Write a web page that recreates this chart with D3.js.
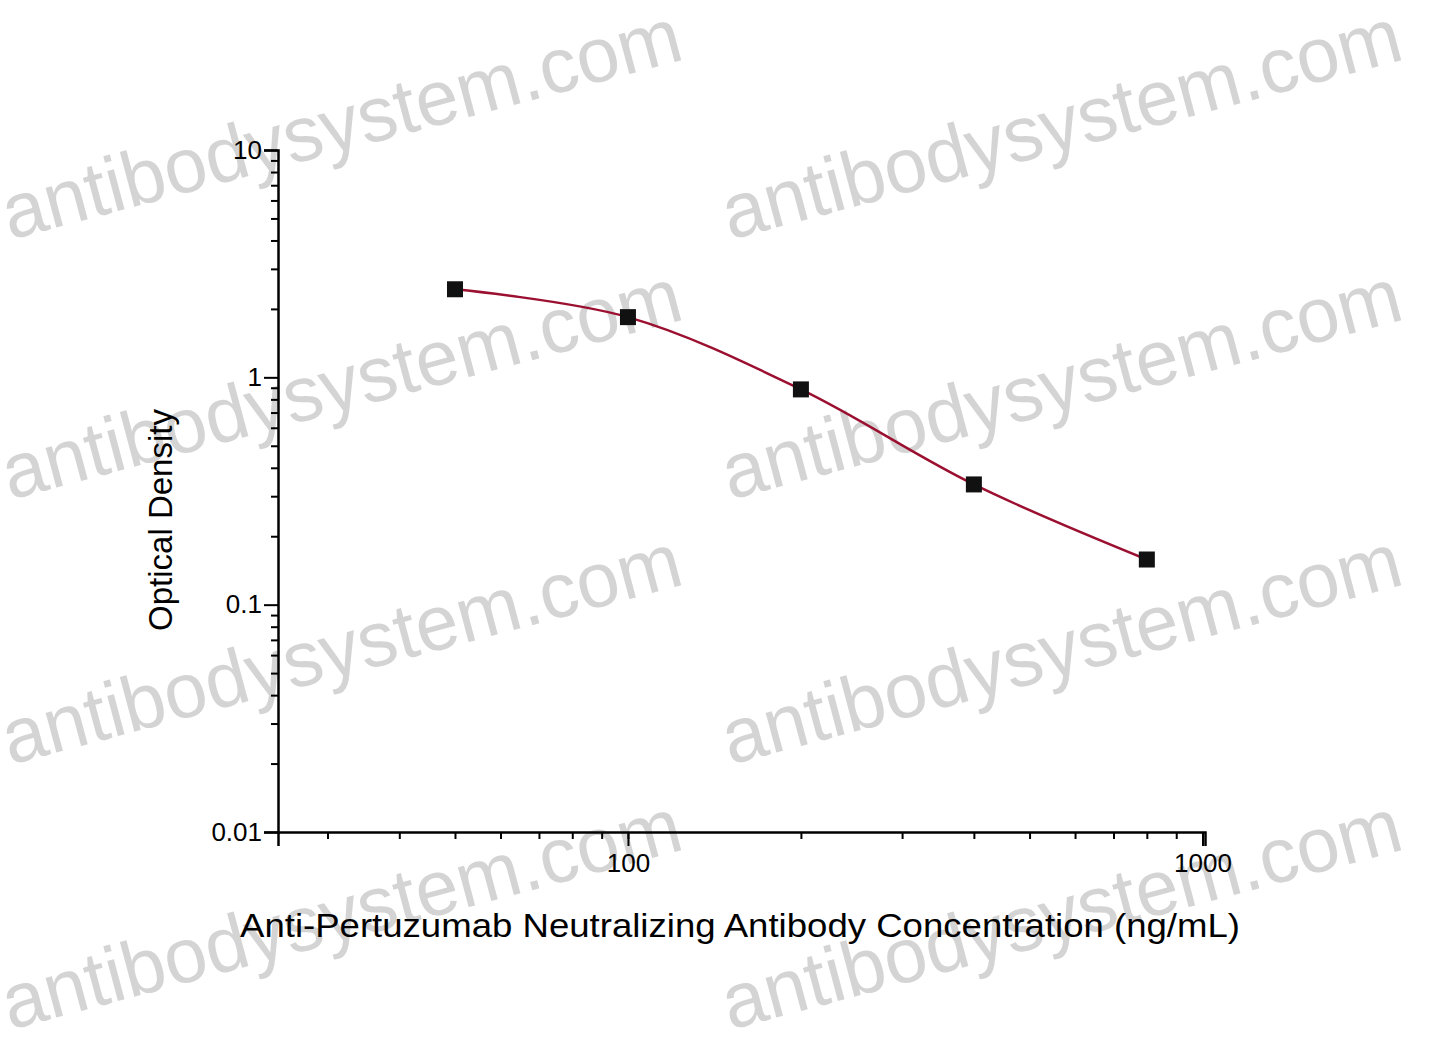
<!DOCTYPE html>
<html><head><meta charset="utf-8">
<script src="https://cdn.jsdelivr.net/npm/d3@7"></script>
<style>body{margin:0;background:#fff}svg{display:block}</style>
</head><body><svg id="c" width="1440" height="1046"></svg>
<script>
const conc = [50, 100, 200, 400, 800];
const od = [2.44, 1.84, 0.885, 0.338, 0.158];
const xTicks = [100, 1000];
const yTicks = [0.01, 0.1, 1, 10];

const svg = d3.select('#c');
const font = '"Liberation Sans", Arial, sans-serif';
const x = d3.scaleLog().domain([24.6, 1010]).range([278, 1205]);
const y = d3.scaleLog().domain([0.01, 10]).range([832, 150]);

// watermarks
const wm = svg.append('g');
[[10, 240], [730, 240], [10, 500], [730, 500], [10, 765], [730, 765], [10, 1030], [730, 1030]].forEach(p => {
  wm.append('text').attr('transform', `translate(${p[0]},${p[1]}) rotate(-15)`)
    .attr('font-family', font).attr('font-size', 78).attr('fill', '#d4d4d4')
    .attr('textLength', 700).attr('lengthAdjust', 'spacingAndGlyphs')
    .text('antibodysystem.com');
});

const g = svg.append('g');
const xMinor = [];
for (let d = 10; d <= 1000; d *= 10) for (let k = 1; k < 10; k++) { const v = d * k; if (v >= 25 && v <= 1000) xMinor.push(v); }
const yMinor = [];
for (let d = 0.01; d < 10; d *= 10) for (let k = 2; k < 10; k++) yMinor.push(d * k);

g.append('g').attr('transform', 'translate(0,832)')
  .call(d3.axisBottom(x).tickValues(xMinor).tickSize(7).tickFormat(''));
g.append('g').attr('transform', 'translate(0,832)')
  .call(d3.axisBottom(x).tickValues(xTicks).tickSize(14).tickPadding(8).tickFormat(d3.format('d')))
  .call(a => a.select('.domain').attr('stroke-width', 2.5));
g.append('g').attr('transform', 'translate(278,0)')
  .call(d3.axisLeft(y).tickValues(yMinor).tickSize(7).tickFormat(''));
g.append('g').attr('transform', 'translate(278,0)')
  .call(d3.axisLeft(y).tickValues(yTicks).tickSize(14).tickPadding(2).tickFormat(d => String(d)))
  .call(a => a.select('.domain').attr('stroke-width', 2.5));
g.selectAll('.tick line').attr('stroke-width', 2);
g.selectAll('.tick text').attr('font-family', font).attr('font-size', 26).attr('fill', '#000');

// curve
const line = d3.line().x((d, i) => x(conc[i])).y(d => y(d)).curve(d3.curveCatmullRom.alpha(0.5));
g.append('path').datum(od).attr('d', line).attr('fill', 'none').attr('stroke', '#9b1030').attr('stroke-width', 2.5);
g.selectAll('rect.pt').data(od).join('rect').attr('class', 'pt')
  .attr('x', (d, i) => x(conc[i]) - 8).attr('y', d => y(d) - 8).attr('width', 16).attr('height', 16).attr('fill', '#111');

svg.append('text').attr('x', 240).attr('y', 937)
  .attr('textLength', 1000).attr('lengthAdjust', 'spacingAndGlyphs')
  .attr('font-family', font).attr('font-size', 33).text('Anti-Pertuzumab Neutralizing Antibody Concentration (ng/mL)');
svg.append('text').attr('transform', 'translate(172,520) rotate(-90)').attr('text-anchor', 'middle')
  .attr('font-family', font).attr('font-size', 33).text('Optical Density');
</script></body></html>
